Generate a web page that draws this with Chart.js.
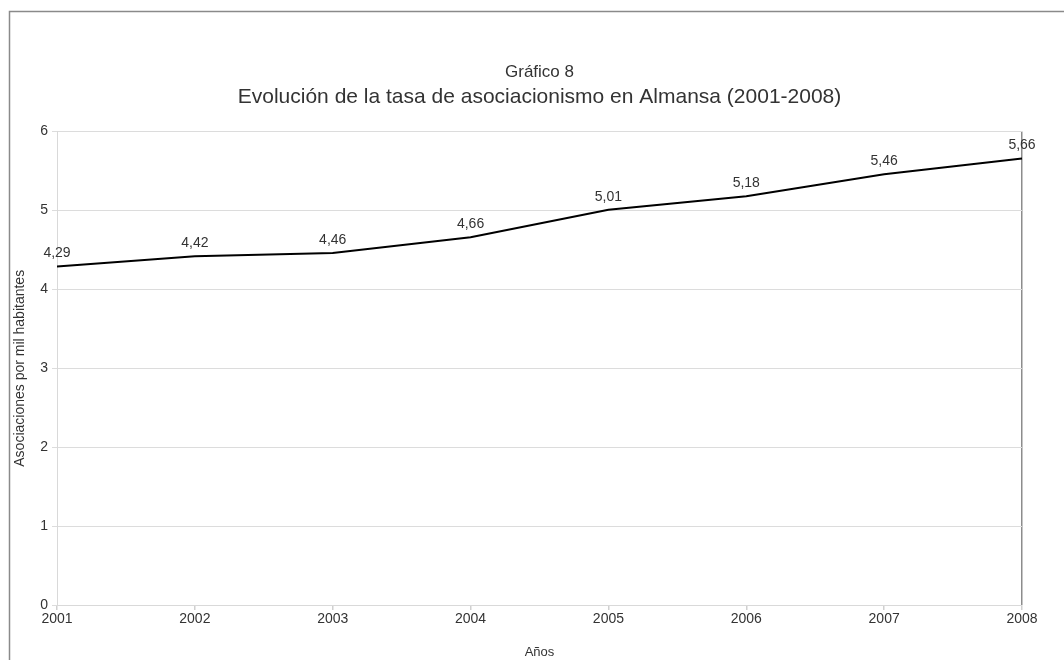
<!DOCTYPE html>
<html>
<head>
<meta charset="utf-8">
<script src="https://cdn.jsdelivr.net/npm/chart.js@4/dist/chart.umd.min.js"></script>
<style>
  html, body { margin: 0; padding: 0; background: #fff; }
  #wrap { width: 1064px; height: 660px; position: relative; }
</style>
</head>
<body>
<div id="wrap"><canvas id="line-chart" width="1064" height="660"></canvas></div>
<script>
const years = ["2001", "2002", "2003", "2004", "2005", "2006", "2007", "2008"];
const tasa = [4.29, 4.42, 4.46, 4.66, 5.01, 5.18, 5.46, 5.66];
const yTicks = [0, 1, 2, 3, 4, 5, 6];

const textColor = "#333";
const fontFamily = "'Liberation Sans', Arial, sans-serif";

// marco gris del gráfico (arriba e izquierda)
const framePlugin = {
  id: "frame",
  beforeDraw(chart) {
    const ctx = chart.ctx;
    ctx.save();
    ctx.fillStyle = "#fff";
    ctx.fillRect(0, 0, chart.width, chart.height);
    ctx.strokeStyle = "#8a8a8a";
    ctx.lineWidth = 1.5;
    ctx.beginPath();
    ctx.moveTo(9.5, chart.height);
    ctx.lineTo(9.5, 11.5);
    ctx.lineTo(chart.width, 11.5);
    ctx.stroke();
    ctx.restore();
  }
};

// etiquetas de valor encima de cada punto
const valueLabels = {
  id: "valueLabels",
  afterDatasetsDraw(chart) {
    const ctx = chart.ctx;
    const meta = chart.getDatasetMeta(0);
    ctx.save();
    ctx.font = "14px " + fontFamily;
    ctx.fillStyle = textColor;
    ctx.textAlign = "center";
    ctx.textBaseline = "middle";
    meta.data.forEach((pt, i) => {
      const txt = tasa[i].toFixed(2).replace(".", ",");
      ctx.fillText(txt, pt.x, pt.y - 13);
    });
    ctx.restore();
  }
};

new Chart(document.getElementById("line-chart"), {
  type: "line",
  data: {
    labels: years,
    datasets: [{
      data: tasa,
      borderColor: "#000",
      borderWidth: 2,
      pointRadius: 0,
      tension: 0,
      fill: false
    }]
  },
  options: {
    responsive: false,
    animation: false,
    layout: { padding: { left: 12, right: 42, top: 0, bottom: 0 } },
    plugins: {
      legend: { display: false },
      tooltip: { enabled: false },
      title: {
        display: true,
        fullSize: false,
        text: "Gráfico 8",
        color: textColor,
        font: { family: fontFamily, size: 17, weight: "normal" },
        padding: { top: 62, bottom: 2 }
      },
      subtitle: {
        display: true,
        fullSize: false,
        text: "Evolución de la tasa de asociacionismo en Almansa (2001-2008)",
        color: textColor,
        font: { family: fontFamily, size: 21, weight: "normal" },
        padding: { top: 0, bottom: 22 }
      }
    },
    scales: {
      x: {
        offset: false,
        grid: {
          color: ctx => ctx.index === years.length - 1 ? "#8c8c8c" : "rgba(0,0,0,0)",
          tickColor: "#d0d0d0",
          tickLength: 5,
          lineWidth: 1.5
        },
        border: { color: "#d9d9d9" },
        ticks: {
          color: textColor,
          font: { family: fontFamily, size: 14 },
          maxRotation: 0,
          padding: 1
        },
        title: {
          display: true,
          text: "Años",
          color: textColor,
          font: { family: fontFamily, size: 13 },
          padding: { top: 9, bottom: 0 }
        },
        afterFit(scale) { scale.height = 55; }
      },
      y: {
        min: 0,
        max: 6,
        afterBuildTicks(scale) { scale.ticks = yTicks.map(v => ({ value: v })); },
        grid: { color: "#dcdcdc", tickLength: 5 },
        border: { color: "#d9d9d9" },
        ticks: {
          color: textColor,
          font: { family: fontFamily, size: 14 },
          padding: 4
        },
        title: {
          display: true,
          text: "Asociaciones por mil habitantes",
          color: textColor,
          font: { family: fontFamily, size: 14 },
          padding: 0
        },
        afterFit(scale) { scale.width = 45; }
      }
    }
  },
  plugins: [framePlugin, valueLabels]
});
</script>
</body>
</html>
